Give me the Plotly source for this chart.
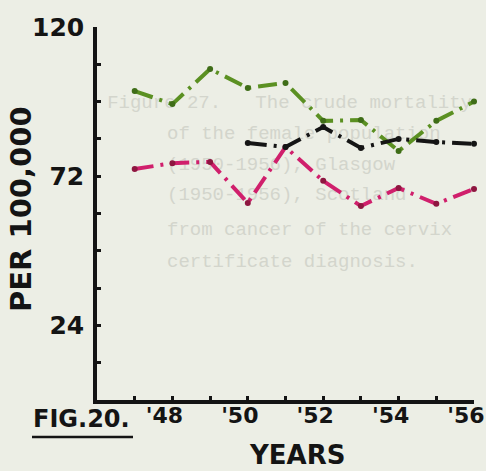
import plotly.graph_objects as go

# Crude mortality per 100,000, 1947-1956
years = [1947, 1948, 1949, 1950, 1951, 1952, 1953, 1954, 1955, 1956]
green_rates = [99.4, 95.2, 106.5, 100.4, 102.0, 89.8, 90.1, 80.1, 89.8, 96.0]
pink_rates = [74.3, 76.2, 76.6, 63.4, 81.4, 70.5, 62.4, 68.2, 63.1, 67.9]
black_years = [1950, 1951, 1952, 1953, 1954, 1955, 1956]
black_rates = [82.7, 81.4, 87.8, 81.1, 84.0, 83.0, 82.4]

y_tick_values = [0, 12, 24, 36, 48, 60, 72, 84, 96, 108, 120]
y_tick_labels = ["", "", "24", "", "", "", "72", "", "", "", "120"]
x_tick_labels = ["", "'48", "", "'50", "", "'52", "", "'54", "", "'56"]

# faint typescript showing through the paper
ghost_lines = [
    "Figure 27.   The crude mortality",
    "of the female population",
    "(1950-1956), Glasgow",
    "(1950-1956), Scotland",
    "from cancer of the cervix",
    "certificate diagnosis.",
]

W, H = 486, 471
L, R, T, B = 97, 12, 27, 71
X0, X1 = 1946, 1956
Y0, Y1 = 0, 120
PW, PH = W - L - R, H - T - B

BG = "#eceee5"
INK = "#141414"
FONT = "DejaVu Sans"


def px_to_x(px):
    return X0 + (px - L) / PW * (X1 - X0)


def py_to_y(py):
    return Y0 + (H - B - py) / PH * (Y1 - Y0)


def paper_x(px):
    return (px - L) / PW


def paper_y(py):
    return (H - B - py) / PH


fig = go.Figure()

ghost_font = dict(family="Liberation Mono", size=19, color="#d3d5cc")
# first line is anchored at its right end, the others at their left end
fig.add_trace(go.Scatter(
    x=[px_to_x(472)], y=[py_to_y(103)], text=ghost_lines[:1],
    mode="text", textposition="middle left", textfont=ghost_font,
    cliponaxis=False, hoverinfo="skip", showlegend=False,
))
ghost_mid = [134, 165, 195, 230, 262]
fig.add_trace(go.Scatter(
    x=[px_to_x(167)] * len(ghost_mid),
    y=[py_to_y(v) for v in ghost_mid],
    text=ghost_lines[1:],
    mode="text", textposition="middle right", textfont=ghost_font,
    cliponaxis=False, hoverinfo="skip", showlegend=False,
))

dash = "19px,7px,3px,7px"
fig.add_trace(go.Scatter(
    x=years, y=green_rates, mode="lines+markers",
    line=dict(color="#5b9022", width=4, dash=dash),
    marker=dict(size=6, color="#3f6d18"),
    showlegend=False, cliponaxis=False,
))
fig.add_trace(go.Scatter(
    x=years, y=pink_rates, mode="lines+markers",
    line=dict(color="#d01f6c", width=4, dash=dash),
    marker=dict(size=6, color="#8e1640"),
    showlegend=False, cliponaxis=False,
))
fig.add_trace(go.Scatter(
    x=black_years, y=black_rates, mode="lines+markers",
    line=dict(color="#151515", width=4, dash=dash),
    marker=dict(size=6, color="#151515"),
    showlegend=False, cliponaxis=False,
))

fig.update_layout(
    width=W, height=H, autosize=False,
    margin=dict(l=L, r=R, t=T, b=B),
    paper_bgcolor=BG, plot_bgcolor=BG,
    xaxis=dict(
        range=[X0, X1], tickvals=years, ticktext=x_tick_labels,
        showline=True, linecolor=INK, linewidth=3.5,
        ticks="inside", ticklen=4, tickwidth=3, tickcolor=INK,
        showgrid=False, zeroline=False, automargin=False,
        tickfont=dict(family=FONT, size=22, color=INK, weight="bold"),
        ticklabelstandoff=-7, ticklabelshift=-8, ticklabeloverflow="allow",
    ),
    yaxis=dict(
        range=[Y0, Y1], tickvals=y_tick_values, ticktext=y_tick_labels,
        showline=True, linecolor=INK, linewidth=3.5,
        ticks="inside", ticklen=4, tickwidth=3, tickcolor=INK,
        showgrid=False, zeroline=False, automargin=False,
        tickfont=dict(family=FONT, size=25, color=INK, weight="bold"),
        ticklabelstandoff=4,
    ),
)

fig.add_annotation(
    text="PER 100,000", textangle=-90, xref="paper", yref="paper",
    x=paper_x(21), y=paper_y(209), xanchor="center", yanchor="middle",
    showarrow=False, font=dict(family=FONT, size=29, color=INK, weight="bold"),
)
fig.add_annotation(
    text="YEARS", xref="paper", yref="paper",
    x=paper_x(297), y=paper_y(455), xanchor="center", yanchor="middle",
    showarrow=False, font=dict(family=FONT, size=26, color=INK, weight="bold"),
)
fig.add_annotation(
    text="FIG.20.", xref="paper", yref="paper",
    x=paper_x(31), y=paper_y(419), xanchor="left", yanchor="middle",
    showarrow=False, font=dict(family=FONT, size=24, color=INK, weight="bold"),
)
fig.add_shape(
    type="line", xref="paper", yref="paper",
    x0=paper_x(32), x1=paper_x(133), y0=paper_y(437), y1=paper_y(437),
    line=dict(color=INK, width=2.5),
)

fig.write_html("out.html")
